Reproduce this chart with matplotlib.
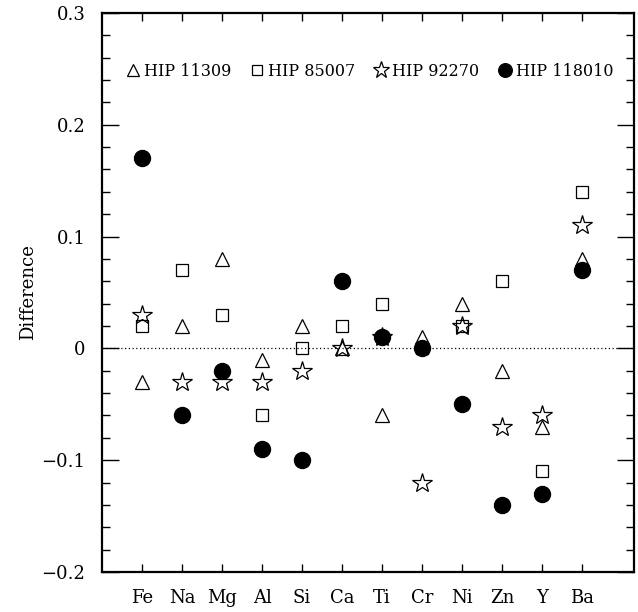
import numpy as np
import matplotlib
matplotlib.use("Agg")
import matplotlib.pyplot as plt
from matplotlib.ticker import MultipleLocator

plt.rcParams['font.family'] = ['DejaVu Serif']

elements = ['Fe', 'Na', 'Mg', 'Al', 'Si', 'Ca', 'Ti', 'Cr', 'Ni', 'Zn', 'Y', 'Ba']
hip11309 = [-0.03, 0.02, 0.08, -0.01, 0.02, 0.00, -0.06, 0.01, 0.04, -0.02, -0.07, 0.08]
hip85007 = [0.02, 0.07, 0.03, -0.06, 0.00, 0.02, 0.04, 0.00, 0.02, 0.06, -0.11, 0.14]
hip92270 = [0.03, -0.03, -0.03, -0.03, -0.02, 0.00, 0.01, -0.12, 0.02, -0.07, -0.06, 0.11]
hip118010 = [0.17, -0.06, -0.02, -0.09, -0.10, 0.06, 0.01, 0.00, -0.05, -0.14, -0.13, 0.07]

x = np.arange(1, len(elements) + 1)

fig = plt.figure(figsize=(6.38, 6.12), dpi=100)
ax = fig.add_axes([0.16, 0.0654, 0.8337, 0.9134])

ax.axhline(0, color='black', lw=0.9, ls=(0, (1, 2)), zorder=1)

ax.plot(x, hip11309, ls='none', marker='^', ms=9.5, mfc='none', mec='black', mew=0.9, label='HIP 11309')
ax.plot(x, hip85007, ls='none', marker='s', ms=8, mfc='none', mec='black', mew=0.9, label='HIP 85007')
ax.plot(x, hip92270, ls='none', marker='*', ms=15, mfc='none', mec='black', mew=0.9, label='HIP 92270')
ax.plot(x, hip118010, ls='none', marker='o', ms=11.5, mfc='black', mec='black', label='HIP 118010')

ax.set_xlim(0, 13.3)
ax.set_ylim(-0.2, 0.3)
ax.set_xticks(x)
ax.set_xticklabels(elements, fontsize=13)
ax.yaxis.set_minor_locator(MultipleLocator(0.02))
ax.set_yticks([-0.2, -0.1, 0, 0.1, 0.2, 0.3])
ax.set_yticklabels(['\u22120.2', '\u22120.1', '0', '0.1', '0.2', '0.3'], fontsize=13)
ax.set_ylabel('Difference', fontsize=13, labelpad=3)

# short ticks at each element, long ones every 5
ax.tick_params(axis='x', which='major', direction='in', top=True, length=6, width=1, pad=12)
ax.set_xticks([5, 10], minor=True)
ax.tick_params(axis='x', which='minor', direction='in', top=True, length=12, width=1)
ax.tick_params(axis='y', which='major', direction='in', right=True, length=12, width=1, pad=12)
ax.tick_params(axis='y', which='minor', direction='in', right=True, length=6, width=1)

for s in ax.spines.values():
    s.set_linewidth(1.6)

ax.legend(loc='upper center', bbox_to_anchor=(0.5, 0.922), ncol=4, frameon=False,
          fontsize=11.5, handletextpad=0.0, columnspacing=1.0, handlelength=1.3,
          markerscale=0.85, borderaxespad=0)

fig.savefig('out.png', dpi=100)
